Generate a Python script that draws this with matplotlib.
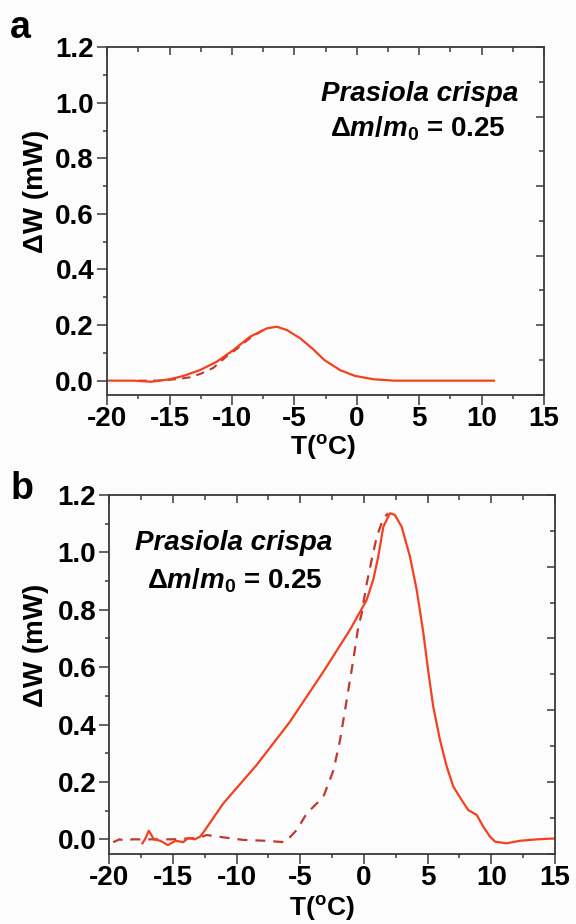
import numpy as np
import matplotlib
matplotlib.use("Agg")
import matplotlib.pyplot as plt
from matplotlib.ticker import MultipleLocator, FixedLocator

plt.rcParams['font.family'] = ['Liberation Sans', 'DejaVu Sans']
plt.rcParams['font.weight'] = 'bold'
plt.rcParams['mathtext.fontset'] = 'custom'
plt.rcParams['mathtext.rm'] = 'Liberation Sans:bold'
plt.rcParams['mathtext.it'] = 'Liberation Sans:bold:italic'
plt.rcParams['mathtext.bf'] = 'Liberation Sans:bold'

# ---------------- data: panel a ----------------
a_solid_T = [-20, -17.9, -16.5, -15, -13.9, -12.57, -11.23, -9.9, -8.56, -7.22, -6.42,
             -5.6, -4.53, -3.5, -2.6, -1.34, -0.14, 1.33, 3, 5, 7, 9, 11]
a_solid_W = [0.0, 0.0, -0.004, 0.005, 0.017, 0.038, 0.068, 0.11, 0.158, 0.188, 0.194,
             0.182, 0.152, 0.113, 0.074, 0.038, 0.017, 0.005, 0.0, 0.0, 0.0, 0.0, 0.0]
a_dash_T = [-17.5, -16, -15, -14, -13.4, -12.5, -11.5, -10.5, -9.6, -8.6, -7.5, -7]
a_dash_W = [0.0, 0.0, 0.003, 0.008, 0.012, 0.025, 0.046, 0.085, 0.115, 0.152, 0.182, 0.19]

# ---------------- data: panel b ----------------
b_solid_T = [-17.4, -17.2, -16.9, -16.5, -16.0, -15.4, -14.8, -14.2, -13.8, -13.3, -12.88,
             -12.6, -11.05, -8.43, -5.81, -3.19, -1.1, 0.21,
             0.73, 1.12, 1.52, 2.04, 2.43, 2.96, 3.61, 4.14, 4.66, 5.05, 5.44, 5.97, 6.5,
             7.02, 7.67, 8.19, 8.85, 9.37, 9.9, 10.3, 11.2, 12.25, 13.6, 15.0]
b_solid_W = [-0.014, 0.0, 0.03, 0.0, -0.005, -0.02, -0.005, -0.01, 0.005, 0.0, 0.009,
             0.025, 0.125, 0.259, 0.41, 0.584, 0.73, 0.834,
             0.905, 0.985, 1.089, 1.136, 1.13, 1.089, 0.985, 0.869, 0.72, 0.585, 0.462, 0.346, 0.253,
             0.183, 0.137, 0.102, 0.085, 0.044, 0.009, -0.008, -0.014, -0.005, 0.0, 0.003]
b_dash_T = [-19.7, -19.2, -18.7, -18.2, -17, -15, -13, -12.35, -11.05, -9.48, -7.78, -6.2,
            -5.29, -4.5, -3.19, -2.4, -1.88, -1.36, -0.84, -0.45, -0.18, 0.21, 0.6, 1.0, 1.52, 1.9]
b_dash_W = [-0.01, 0.0, -0.005, 0.0, 0.0, 0.0, 0.005, 0.015, 0.007, -0.002, -0.005, -0.01,
            0.032, 0.09, 0.148, 0.24, 0.346, 0.485, 0.625, 0.74, 0.787, 0.89, 0.973, 1.054, 1.118, 1.136]

x_ticks = [-20, -15, -10, -5, 0, 5, 10, 15]
y_ticks = [0.0, 0.2, 0.4, 0.6, 0.8, 1.0, 1.2]
annot_name = "Prasiola crispa"
annot_ratio = r"$\mathit{\Delta m/m_0}$ = 0.25"

SOLID = '#f5401f'
DASH = '#c0392e'
SPINE = '#3a3a3a'
BG = '#fcfcfc'

fig = plt.figure(figsize=(5.76, 9.24), dpi=100, facecolor=BG)
ax_a = fig.add_axes([0.1863, 0.573, 0.758, 0.376])
ax_b = fig.add_axes([0.1898, 0.0761, 0.7737, 0.3883])


def style(ax):
    ax.set_facecolor(BG)
    ax.set_xlim(-20, 15)
    ax.set_ylim(-0.05, 1.2)
    ax.set_xticks(x_ticks)
    ax.set_xticklabels([f"{t:d}" for t in x_ticks])
    ax.set_yticks(y_ticks)
    ax.set_yticklabels([f"{t:.1f}" for t in y_ticks])
    ax.xaxis.set_minor_locator(MultipleLocator(2.5))
    ax.yaxis.set_minor_locator(MultipleLocator(0.1))
    ax.tick_params(which='both', direction='out', top=False, right=False,
                   colors=SPINE, width=1.1, labelsize=20, labelcolor='black', pad=2.5)
    ax.tick_params(axis='x', pad=1.5)
    ax.tick_params(which='major', length=7)
    ax.tick_params(which='minor', length=3)
    for s in ax.spines.values():
        s.set_color(SPINE)
        s.set_linewidth(1.3)
    for lab in ax.get_xticklabels() + ax.get_yticklabels():
        lab.set_fontweight('bold')
    sx = ax.secondary_xaxis('top')
    sx.xaxis.set_major_locator(MultipleLocator(5))
    sx.xaxis.set_minor_locator(MultipleLocator(2.5))
    sx.tick_params(which='both', direction='in', labeltop=False, colors=SPINE, width=1.1)
    sx.tick_params(which='major', length=6)
    sx.tick_params(which='minor', length=3.5)
    sx.spines['top'].set_visible(False)
    sy = ax.secondary_yaxis('right')
    sy.yaxis.set_major_locator(FixedLocator(np.arange(-0.05, 1.21, 0.25)))
    sy.yaxis.set_minor_locator(FixedLocator(np.arange(0.075, 1.21, 0.25)))
    sy.tick_params(which='both', direction='in', labelright=False, colors=SPINE, width=1.1)
    sy.tick_params(which='major', length=6)
    sy.tick_params(which='minor', length=3.5)
    sy.spines['right'].set_visible(False)
    ax.set_xlabel(r"T($^{\mathrm{o}}$C)", fontsize=19, fontweight='bold')
    ax.set_ylabel("ΔW (mW)", fontsize=20, fontweight='bold')


style(ax_a)
style(ax_b)

ax_a.plot(a_dash_T, a_dash_W, color=DASH, lw=1.5, ls=(0, (4, 3)))
ax_a.plot(a_solid_T, a_solid_W, color=SOLID, lw=1.6)
ax_b.plot(b_dash_T, b_dash_W, color=DASH, lw=1.6, ls=(0, (4.5, 3.6)))
ax_b.plot(b_solid_T, b_solid_W, color=SOLID, lw=1.6)

ax_a.xaxis.set_label_coords(0.494, -0.112)
ax_a.yaxis.set_label_coords(-0.134, 0.585)
ax_b.xaxis.set_label_coords(0.477, -0.113)
ax_b.yaxis.set_label_coords(-0.136, 0.58)

ax_a.text(0.716, 0.864, annot_name, transform=ax_a.transAxes, ha='center', va='center',
          fontsize=20, fontweight='bold', fontstyle='italic')
ax_a.text(0.712, 0.766, annot_ratio, transform=ax_a.transAxes, ha='center', va='center',
          fontsize=20, fontweight='bold')
ax_b.text(0.280, 0.866, annot_name, transform=ax_b.transAxes, ha='center', va='center',
          fontsize=20, fontweight='bold', fontstyle='italic')
ax_b.text(0.282, 0.760, annot_ratio, transform=ax_b.transAxes, ha='center', va='center',
          fontsize=20, fontweight='bold')

fig.text(0.017, 0.9589, "a", fontsize=27, fontweight='bold', ha='left', va='baseline')
fig.text(0.019, 0.46, "b", fontsize=27, fontweight='bold', ha='left', va='baseline')

fig.savefig("out.png", dpi=100, facecolor=BG)
